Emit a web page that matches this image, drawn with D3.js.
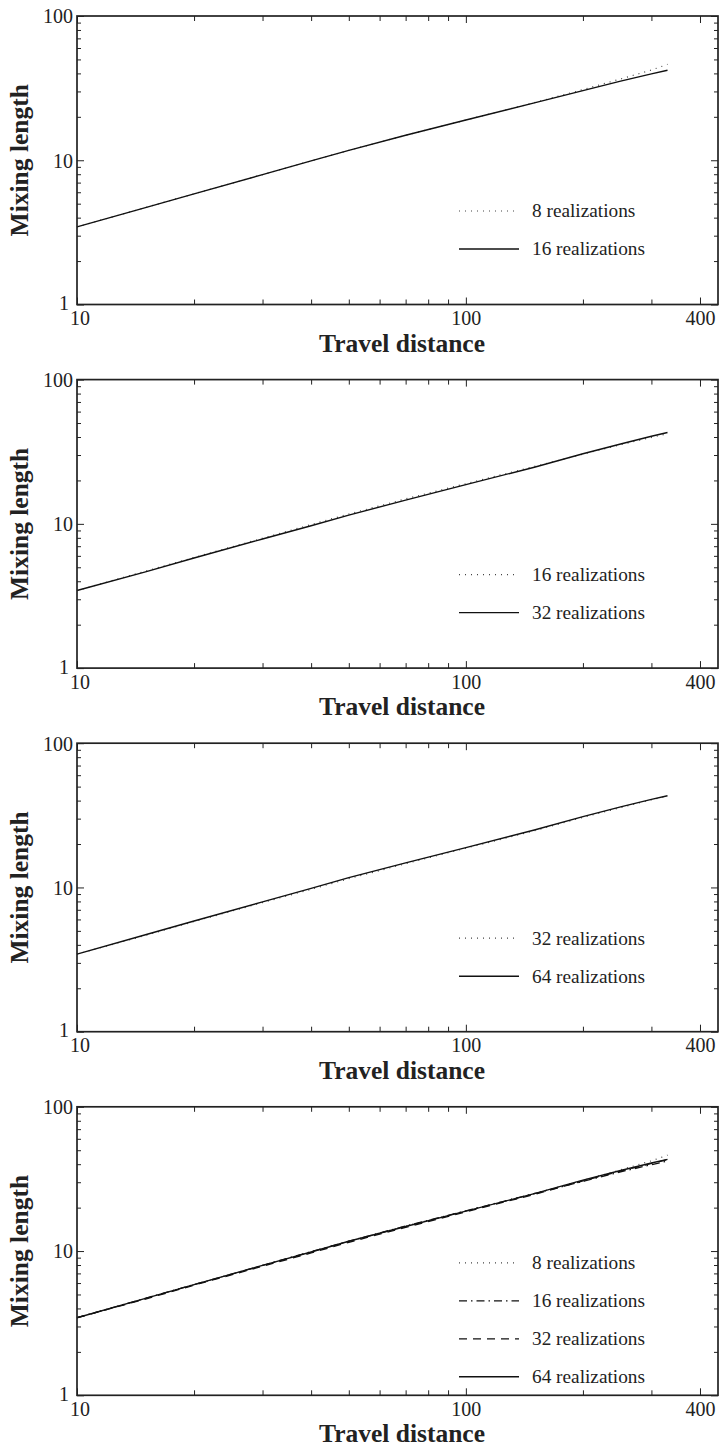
<!DOCTYPE html>
<html><head><meta charset="utf-8">
<script src="https://cdn.jsdelivr.net/npm/d3@7"></script>
<style>body{margin:0;background:#fff}svg{display:block}</style>
</head><body>
<svg id="c" width="720" height="1448"></svg>
<script>
// ---- data ----
const distance = [10, 15, 20, 30, 40, 50, 70, 100, 150, 200, 250, 300, 330];
const real8  = [3.45, 4.7, 5.85, 7.95, 9.9, 11.7, 14.9, 19.0, 25.1, 30.9, 36.6, 42.2, 46.2];
const real16 = [3.45, 4.7, 5.85, 7.95, 9.9, 11.7, 14.9, 19.0, 25.0, 30.4, 35.4, 39.7, 42.1];
const real32 = [3.45, 4.65, 5.8, 7.85, 9.7, 11.5, 14.6, 18.7, 24.7, 30.6, 35.8, 40.5, 43.0];
const real64 = [3.45, 4.7, 5.85, 7.95, 9.85, 11.7, 14.8, 18.9, 25.0, 31.0, 36.2, 40.8, 43.2];
const xTickLabels = [10, 100, 400];
const xMinorTicks = [20, 30, 40, 50, 60, 70, 80, 90, 200, 300];
const yTickLabels = [1, 10, 100];
const yMinorTicks = [2, 3, 4, 5, 6, 7, 8, 9, 20, 30, 40, 50, 60, 70, 80, 90];
const panelSeries = [
  [["8 realizations", real8, "dot"], ["16 realizations", real16, "solid"]],
  [["16 realizations", real16, "dot"], ["32 realizations", real32, "solid"]],
  [["32 realizations", real32, "dot"], ["64 realizations", real64, "solid"]],
  [["8 realizations", real8, "dot"], ["16 realizations", real16, "dashdot"],
   ["32 realizations", real32, "dash"], ["64 realizations", real64, "solid"]]
];
const xTitle = "Travel distance";
const yTitle = "Mixing length";

// ---- layout ----
const svg = d3.select("#c");
const L = 77, R = 718, H = 288.5, step = 363.6, top0 = 16;
const font = "'Liberation Serif','Times New Roman',Times,serif";
const ink = "#222";
const styles = {
  solid: {dash: null, w: 1.4, c: "#111"},
  dot: {dash: "1,5", w: 1.2, c: "#444"},
  dashdot: {dash: "8,4,1.5,4", w: 1.3, c: "#111"},
  dash: {dash: "8,6", w: 1.3, c: "#111"}
};
const x = d3.scaleLog().domain([10, 445]).range([L, R]);

panelSeries.forEach((series, i) => {
  const top = top0 + i * step, bot = top + H;
  const y = d3.scaleLog().domain([1, 100]).range([bot, top]);
  const g = svg.append("g");

  // lines
  const line = vals => d3.line().x((d, k) => x(distance[k])).y(d => y(d))(vals);
  series.forEach(([name, vals, st]) => {
    const s = styles[st];
    g.append("path").attr("d", line(vals)).attr("fill", "none")
      .attr("stroke", s.c).attr("stroke-width", s.w)
      .attr("stroke-dasharray", s.dash);
  });

  // axes with inward ticks
  const bottomAx = d3.axisBottom(x).tickValues(xTickLabels).tickSize(-7).tickFormat(d3.format("d")).tickPadding(6.5);
  const bottomMinor = d3.axisBottom(x).tickValues(xMinorTicks).tickSize(-5).tickFormat("");
  const topAx = d3.axisTop(x).tickValues(xTickLabels).tickSize(-7).tickFormat("");
  const topMinor = d3.axisTop(x).tickValues(xMinorTicks).tickSize(-5).tickFormat("");
  const leftAx = d3.axisLeft(y).tickValues(yTickLabels).tickSize(-7).tickFormat(d3.format("d")).tickPadding(4);
  const leftMinor = d3.axisLeft(y).tickValues(yMinorTicks).tickSize(-4).tickFormat("");
  const rightAx = d3.axisRight(y).tickValues(yTickLabels).tickSize(-7).tickFormat("");
  const rightMinor = d3.axisRight(y).tickValues(yMinorTicks).tickSize(-4).tickFormat("");

  const add = (ax, tr) => {
    const a = g.append("g").attr("transform", tr).call(ax).attr("font-family", font);
    a.select(".domain").remove();
    a.selectAll(".tick line").attr("stroke", ink).attr("stroke-width", 1);
    a.selectAll("text").attr("font-family", font).attr("font-size", 20).attr("fill", ink);
    return a;
  };
  add(bottomAx, `translate(0,${bot})`).selectAll("text")
    .attr("dy", "0.71em").attr("dx", d => d === 10 ? 2.5 : 0);
  add(bottomMinor, `translate(0,${bot})`);
  add(topAx, `translate(0,${top})`);
  add(topMinor, `translate(0,${top})`);
  const la = add(leftAx, `translate(${L},0)`);
  la.selectAll("text").attr("dy", d => d === 1 ? "0.26em" : "0.34em").attr("x", d => d === 1 ? -8 : -4);
  add(leftMinor, `translate(${L},0)`);
  add(rightAx, `translate(${R},0)`);
  add(rightMinor, `translate(${R},0)`);

  // frame
  g.append("rect").attr("x", L).attr("y", top).attr("width", R - L).attr("height", H)
    .attr("fill", "none").attr("stroke", ink).attr("stroke-width", 1.7);

  // titles
  g.append("text").attr("x", 402).attr("y", bot + 47).attr("text-anchor", "middle")
    .attr("font-family", font).attr("font-weight", "bold").attr("font-size", 25.5).attr("fill", ink)
    .text(xTitle);
  g.append("text").attr("transform", `translate(28,${(top + bot) / 2}) rotate(-90)`)
    .attr("text-anchor", "middle").attr("font-family", font).attr("font-weight", "bold")
    .attr("font-size", 25.5).attr("fill", ink).text(yTitle);

  // legend
  const n = series.length;
  const rowStart = n === 2 ? 195 : 156;
  series.forEach(([name, vals, st], k) => {
    const s = styles[st];
    const ry = top + rowStart + k * 38;
    g.append("line").attr("x1", 459).attr("x2", 519).attr("y1", ry).attr("y2", ry)
      .attr("stroke", s.c).attr("stroke-width", s.w).attr("stroke-dasharray", s.dash);
    g.append("text").attr("x", 532).attr("y", ry).attr("dy", "0.33em")
      .attr("font-family", font).attr("font-size", 19.3).attr("fill", ink).text(name);
  });
});
</script>
</body></html>
